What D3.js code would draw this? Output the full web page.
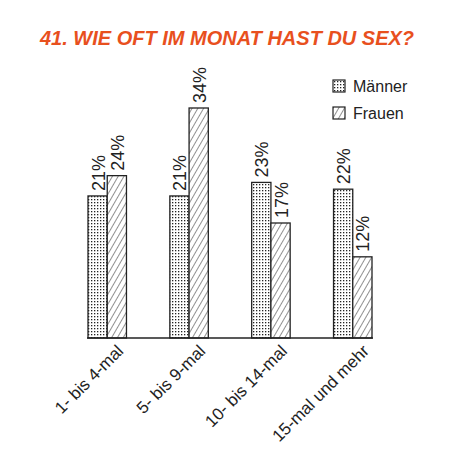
<!DOCTYPE html>
<html><head><meta charset="utf-8">
<script src="https://cdn.jsdelivr.net/npm/d3@7"></script>
<style>body{margin:0;background:#fff}</style>
</head><body>
<div id="chart"></div>
<script>
var categories = ["1- bis 4-mal", "5- bis 9-mal", "10- bis 14-mal", "15-mal und mehr"];
var maenner = [21, 21, 23, 22];
var frauen = [24, 34, 17, 12];
var seriesNames = ["Männer", "Frauen"];

var w = 474, h = 470;
var base = 338;
var font = "'Liberation Sans', 'DejaVu Sans', sans-serif";

var svg = d3.select("#chart").append("svg").attr("width", w).attr("height", h);

var defs = svg.append("defs");
var dots = defs.append("pattern").attr("id", "dots").attr("patternUnits", "userSpaceOnUse")
	.attr("width", 3).attr("height", 3);
dots.append("rect").attr("width", 3).attr("height", 3).attr("fill", "#fff");
dots.append("rect").attr("x", 1).attr("y", 1).attr("width", 1.3).attr("height", 1.3).attr("fill", "#222");
var hatch = defs.append("pattern").attr("id", "hatch").attr("patternUnits", "userSpaceOnUse")
	.attr("width", 5).attr("height", 5).attr("patternTransform", "rotate(30)");
hatch.append("rect").attr("width", 5).attr("height", 5).attr("fill", "#fff");
hatch.append("line").attr("x1", 0).attr("y1", 0).attr("x2", 0).attr("y2", 5)
	.attr("stroke", "#222").attr("stroke-width", 1);

var x0 = d3.scaleBand().domain(categories).range([88, 372]).paddingInner(0.53).paddingOuter(0);
var x1 = d3.scaleBand().domain(seriesNames).range([0, x0.bandwidth()]);
var y = d3.scaleLinear().domain([0, 34]).range([base, 108]);

var fills = ["url(#dots)", "url(#hatch)"];
var data = [];
categories.forEach(function(c, i) {
	data.push({c: c, s: 0, v: maenner[i]});
	data.push({c: c, s: 1, v: frauen[i]});
});

svg.selectAll("rect.bar").data(data).enter().append("rect")
	.attr("class", "bar")
	.attr("x", function(d) { return x0(d.c) + x1(seriesNames[d.s]); })
	.attr("y", function(d) { return y(d.v); })
	.attr("width", x1.bandwidth())
	.attr("height", function(d) { return base - y(d.v); })
	.attr("fill", function(d) { return fills[d.s]; })
	.attr("stroke", "#222").attr("stroke-width", 1.3);

svg.selectAll("text.val").data(data).enter().append("text")
	.attr("class", "val")
	.attr("transform", function(d) {
		var cx = x0(d.c) + x1(seriesNames[d.s]) + x1.bandwidth() / 2 + 7;
		return "translate(" + cx + "," + (y(d.v) - 5) + ") rotate(-90)";
	})
	.attr("font-family", font).attr("font-size", 18).attr("fill", "#222")
	.text(function(d) { return d.v + "%"; });

svg.append("line").attr("x1", 87).attr("x2", 373).attr("y1", base).attr("y2", base)
	.attr("stroke", "#222").attr("stroke-width", 1.5);

svg.selectAll("text.cat").data(categories).enter().append("text")
	.attr("class", "cat")
	.attr("text-anchor", "end")
	.attr("transform", function(d) {
		return "translate(" + (x0(d) + x0.bandwidth() - 2) + ",352) rotate(-45)";
	})
	.attr("font-family", font).attr("font-size", 17).attr("fill", "#222")
	.text(function(d) { return d; });

var leg = svg.selectAll("g.leg").data(seriesNames).enter().append("g")
	.attr("transform", function(d, i) { return "translate(333," + (80 + i * 27) + ")"; });
leg.append("rect").attr("width", 12).attr("height", 12)
	.attr("fill", function(d, i) { return fills[i]; })
	.attr("stroke", "#222").attr("stroke-width", 1.2);
leg.append("text").attr("x", 20).attr("y", 12)
	.attr("font-family", font).attr("font-size", 16).attr("fill", "#222")
	.text(function(d) { return d; });

svg.append("text").attr("x", 40).attr("y", 45)
	.attr("font-family", font).attr("font-size", 20).attr("font-weight", "bold")
	.attr("font-style", "italic").attr("fill", "#e8501e")
	.text("41. WIE OFT IM MONAT HAST DU SEX?");
</script>
</body></html>
